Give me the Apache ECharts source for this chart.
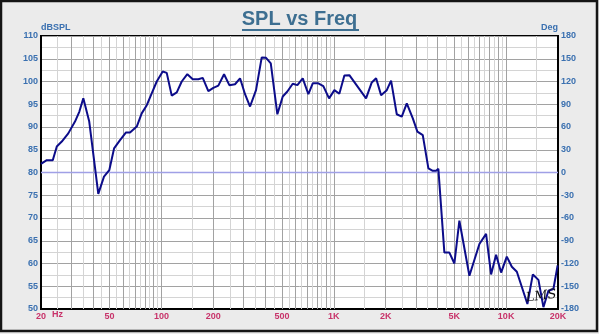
<!DOCTYPE html>
<html>
<head>
<meta charset="utf-8">
<script src="https://cdn.jsdelivr.net/npm/echarts@6/dist/echarts.min.js"></script>
<style>
html,body{margin:0;padding:0;background:#ebebeb;}
#c{width:599px;height:334px;}
</style>
</head>
<body>
<div id="c"></div>
<script>
// ---- data ----
const freqHz = [20, 21.6, 23.4, 24.7, 26.4, 28.8, 31.5, 33.4, 35.2, 38.1, 43.0, 46.4, 49.8, 53.1, 57.5, 62.3, 65.7, 71.9, 76.8, 82.2, 87.8, 93.9, 101.7, 107.3, 114.7, 122.7, 131.1, 141.3, 151.9, 163.7, 173.6, 187.1, 200, 213.8, 230.8, 247.7, 267.2, 285.8, 305.5, 326.6, 353.8, 381.8, 404.5, 430.9, 470.5, 505.6, 537.7, 577.8, 614.6, 660.5, 712, 755, 813.6, 869.6, 938.8, 1008, 1077, 1152, 1231, 1539, 1661, 1760, 1881, 2030, 2150, 2320, 2480, 2652, 2874, 3055, 3284, 3540, 3734, 3924, 4044, 4382, 4686, 5009, 5355, 6122, 6998, 7651, 8180, 8745, 9352, 10090, 10790, 11540, 13290, 14290, 15400, 16460, 17600, 18810, 19900];
const splDb = [81.9, 82.7, 82.7, 85.7, 86.8, 88.6, 91.2, 93.4, 96.3, 91.2, 75.3, 79.1, 80.5, 85.3, 87.1, 88.8, 88.8, 90.1, 93.0, 94.8, 97.4, 100.0, 102.2, 101.9, 96.9, 97.6, 100.0, 101.6, 100.5, 100.5, 100.8, 97.9, 98.6, 99.1, 101.6, 99.2, 99.4, 100.7, 97.2, 94.5, 98.1, 105.3, 105.2, 104.0, 92.8, 96.7, 97.8, 99.5, 99.2, 100.7, 97.2, 99.6, 99.6, 99.0, 96.3, 98.1, 97.3, 101.3, 101.4, 96.3, 99.8, 100.7, 97.0, 98.1, 100.2, 92.8, 92.3, 95.2, 91.9, 89.0, 88.2, 80.9, 80.4, 80.4, 80.8, 62.4, 62.4, 60.0, 69.4, 57.3, 64.3, 66.5, 57.6, 61.9, 58.0, 61.5, 59.3, 58.2, 51.1, 57.6, 56.4, 50.4, 54.0, 54.4, 59.6];
const xTickValues = [20, 50, 100, 200, 500, 1000, 2000, 5000, 10000, 20000];
const xTickLabels = ['20', '50', '100', '200', '500', '1K', '2K', '5K', '10K', '20K'];
const phaseZeroDeg = [0];

// log grid lines (major at k*10^n, minor at (k+0.5)*10^n)
const majorGrid = [], minorGrid = [];
[10, 100, 1000, 10000].forEach(d => {
  for (let k = 1; k <= 9; k++) {
    const a = k * d, b = (k + 0.5) * d;
    if (a > 20 && a < 20000) majorGrid.push(a);
    if (b > 20 && b < 20000) minorGrid.push(b);
  }
});

const labelBlue = '#3a70b0';
const labelRed = '#c8336a';
const font = 'Liberation Sans';
const phaseColor = '#a0a0e6';

const chart = echarts.init(document.getElementById('c'), null, {renderer: 'canvas'});
const lineData = freqHz.map((f, i) => [f, splDb[i]]);

chart.setOption({
  animation: false,
  backgroundColor: '#ebebeb',
  grid: {left: 41, right: 41, top: 36, bottom: 25, show: true, backgroundColor: '#ffffff', borderColor: '#000', borderWidth: 2},
  xAxis: {
    type: 'log', logBase: 10, min: 20, max: 20000,
    axisLine: {show: true, onZero: false, lineStyle: {color: '#000', width: 2}},
    axisTick: {show: false},
    splitLine: {show: false},
    axisLabel: {
      customValues: xTickValues,
      formatter: v => { const i = xTickValues.findIndex(t => Math.abs(t - v) / t < 1e-6); return i >= 0 ? xTickLabels[i] : ''; },
      color: labelRed, fontSize: 9, fontWeight: 'bold', fontFamily: font, margin: 3
    }
  },
  yAxis: [{
    type: 'value', min: 50, max: 110, interval: 5, position: 'left',
    name: 'dBSPL', nameLocation: 'end', nameGap: 2,
    nameTextStyle: {align: 'left', verticalAlign: 'bottom', color: labelBlue, fontSize: 9, fontWeight: 'bold', fontFamily: font},
    axisLine: {show: true, onZero: false, lineStyle: {color: '#000', width: 2}},
    axisTick: {show: false},
    axisLabel: {color: labelBlue, fontSize: 9, fontWeight: 'bold', fontFamily: font, margin: 3},
    splitLine: {show: true, lineStyle: {color: '#a2a2a2', width: 1}},
    minorTick: {show: false, splitNumber: 2},
    minorSplitLine: {show: true, lineStyle: {color: '#d4d4d4', width: 1}}
  }, {
    type: 'value', min: -180, max: 180, interval: 30, position: 'right',
    name: 'Deg', nameLocation: 'end', nameGap: 2,
    nameTextStyle: {align: 'right', verticalAlign: 'bottom', color: labelBlue, fontSize: 9, fontWeight: 'bold', fontFamily: font},
    axisLine: {show: true, onZero: false, lineStyle: {color: '#000', width: 2}},
    axisTick: {show: false},
    axisLabel: {color: labelBlue, fontSize: 9, fontWeight: 'bold', fontFamily: font, margin: 3},
    splitLine: {show: false}
  }],
  series: [{
    type: 'line', data: [], z: 1, silent: true,
    markLine: {
      silent: true, symbol: 'none', label: {show: false}, animation: false,
      data: minorGrid.map(v => ({xAxis: v, lineStyle: {color: '#d4d4d4', width: 1, type: 'solid'}}))
        .concat(majorGrid.map(v => ({xAxis: v, lineStyle: {color: '#a2a2a2', width: 1, type: 'solid'}})))
    }
  }, {
    type: 'line', data: [], yAxisIndex: 1, z: 2, silent: true, color: phaseColor,
    markLine: {
      silent: true, symbol: 'none', label: {show: false}, animation: false,
      lineStyle: {color: phaseColor, width: 1.3, type: 'solid', opacity: 1},
      data: phaseZeroDeg.map(v => ({yAxis: v}))
    }
  }, {
    type: 'line', data: lineData, z: 5, showSymbol: false, symbol: 'none',
    lineStyle: {color: '#0c0c8a', width: 2}
  }],
  graphic: [
    {type: 'rect', shape: {x: 1, y: 1, width: 596, height: 330}, style: {fill: 'none', stroke: '#151515', lineWidth: 2.5}, z: 100},
    {type: 'text', left: 'center', top: 9, style: {text: 'SPL vs Freq', font: 'bold 20px "Liberation Sans"', fill: '#3d6f91'}, z: 100},
    {type: 'line', shape: {x1: 242, y1: 30, x2: 359, y2: 30}, style: {stroke: '#3d6f91', lineWidth: 2}, z: 100},
    {type: 'text', left: 52, top: 310, style: {text: 'Hz', font: 'bold 9px "Liberation Sans"', fill: labelRed}, z: 100},
    {type: 'text', left: 525, top: 288, rotation: 0.12, style: {text: 'LMS', font: 'italic 13px "DejaVu Serif"', fill: '#111'}, z: 100}
  ]
});
</script>
</body>
</html>
